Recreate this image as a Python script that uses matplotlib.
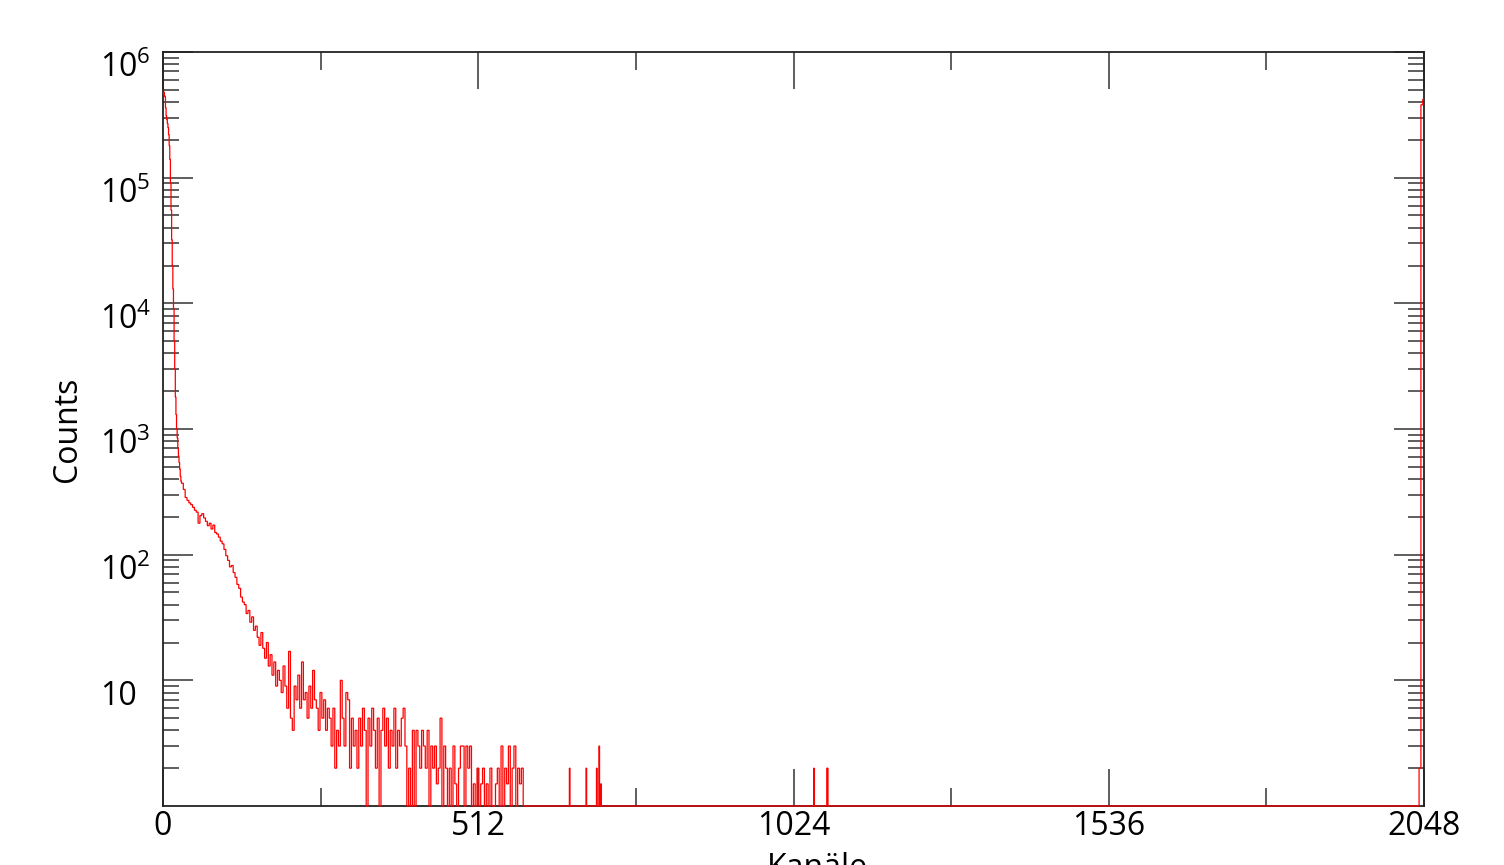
import numpy as np
import matplotlib.pyplot as plt
from matplotlib.ticker import MultipleLocator, LogLocator, FixedLocator, NullFormatter

plt.rcParams['font.family'] = ['Open Sans', 'DejaVu Sans']
plt.rcParams['mathtext.fontset'] = 'custom'
plt.rcParams['mathtext.rm'] = 'Open Sans'
plt.rcParams['mathtext.it'] = 'Open Sans'

# --- spectrum data (counts per channel) ---
n_channels = 2048

# channels 0..29, one value per channel
head_counts = [4.6e5, 4.8e5, 4.5e5, 4.4e5, 3.6e5, 3.1e5, 2.9e5, 2.7e5, 2.5e5, 2.2e5,
               1.8e5, 1.4e5, 9e4, 5.5e4, 3.2e4, 2e4, 1.3e4, 9e3, 5e3, 3e3,
               1.8e3, 1.3e3, 1.0e3, 850, 700, 610, 540, 480, 420, 385]

# channels 30..587, one value per group of 3 channels
tail_start = 30
tail_group = 3
tail_counts = [370, 330, 285, 270, 258, 250, 238, 226, 218, 178,
               205, 212, 196, 184, 170, 178, 160, 172, 150, 146,
               138, 128, 122, 110, 98, 90, 80, 82, 72, 66,
               58, 54, 46, 42, 40, 34, 36, 29, 32, 25,
               27, 22, 19, 24, 18, 15, 20, 13, 16, 11,
               14, 9, 12, 10, 8, 13, 9, 6, 17, 5,
               4, 9, 7, 11, 6, 14, 7, 8, 5, 9,
               6, 12, 7, 6, 4, 8, 5, 7, 4, 6,
               5, 3, 6, 2, 4, 3, 10, 5, 3, 8,
               7, 2, 5, 3, 4, 2, 5, 3, 6, 4,
               0, 5, 3, 6, 4, 2, 5, 0, 4, 6,
               3, 5, 2, 4, 3, 6, 2, 4, 3, 5,
               6, 3, 0, 2, 0, 4, 0, 4, 3, 2,
               4, 3, 2, 4, 0, 3, 2, 3, 1.5, 2,
               5, 0, 3, 2, 0, 2, 0, 3, 1.5, 0,
               2, 3, 3, 0, 3, 2, 3, 0, 1.5, 0,
               2, 0, 1.5, 2, 0, 1.5, 0, 2, 0, 0,
               1.5, 2, 0, 3, 0, 2, 1.5, 3, 0, 2,
               3, 0, 2, 1.5, 2, 0]

# isolated counts further out
spike_channels = [660, 687, 704, 708, 711, 1057, 1078, 1079]
spike_counts = [2, 2, 2, 3, 1.5, 2, 2, 2]

# overflow peak at the upper end
end_channels = [2040, 2041, 2042, 2043, 2044, 2045, 2046, 2047]
end_counts = [2, 2, 2, 3.8e5, 3.8e5, 3.8e5, 4.2e5, 4.2e5]

counts = np.zeros(n_channels)
counts[:len(head_counts)] = head_counts
tail = np.repeat(tail_counts, tail_group)
counts[tail_start:tail_start + len(tail)] = tail
counts[spike_channels] = spike_counts
counts[end_channels] = end_counts
edges = np.arange(n_channels + 1)

x_ticks = [0, 512, 1024, 1536, 2048]
y_ticks = [1e1, 1e2, 1e3, 1e4, 1e5, 1e6]
y_labels = ['10', r'$\mathregular{10^{2}}$', r'$\mathregular{10^{3}}$',
            r'$\mathregular{10^{4}}$', r'$\mathregular{10^{5}}$', r'$\mathregular{10^{6}}$']

fig = plt.figure(figsize=(15.04, 8.65), dpi=100)
ax = fig.add_axes([163 / 1504, 59 / 865, 1261 / 1504, 754 / 865])

# zero channels drawn on the floor of the log axis
ax.stairs(np.maximum(counts, 1), edges, baseline=None, color='#ff0000', lw=0.9,
          zorder=3, clip_on=False)

ax.set_yscale('log')
ax.set_xlim(0, 2048)
ax.set_ylim(1, 1e6)

ax.xaxis.set_major_locator(FixedLocator(x_ticks))
ax.xaxis.set_minor_locator(MultipleLocator(256))
ax.set_xticklabels([str(t) for t in x_ticks])

ax.yaxis.set_major_locator(FixedLocator(y_ticks))
ax.yaxis.set_minor_locator(LogLocator(base=10, subs=np.arange(2, 10)))
ax.yaxis.set_minor_formatter(NullFormatter())
ax.set_yticklabels(y_labels, ha='left', va='top')

tick_col = '#333333'
ax.tick_params(axis='both', which='both', direction='in', top=True, right=True,
               color=tick_col, width=1.1, labelsize=23)
ax.tick_params(axis='x', which='major', length=26.5, pad=3)
ax.tick_params(axis='x', which='minor', length=13)
ax.tick_params(axis='y', which='major', length=21.5, pad=45)
ax.tick_params(axis='y', which='minor', length=11.5)

for s in ax.spines.values():
    s.set_linewidth(1.3)
    s.set_color('#222222')

ax.set_ylabel('Counts', fontsize=23, labelpad=12)
fig.text(817 / 1504, 13 / 865, 'Kanäle', fontsize=23, ha='center', va='top')

fig.savefig('out.png', dpi=100)
